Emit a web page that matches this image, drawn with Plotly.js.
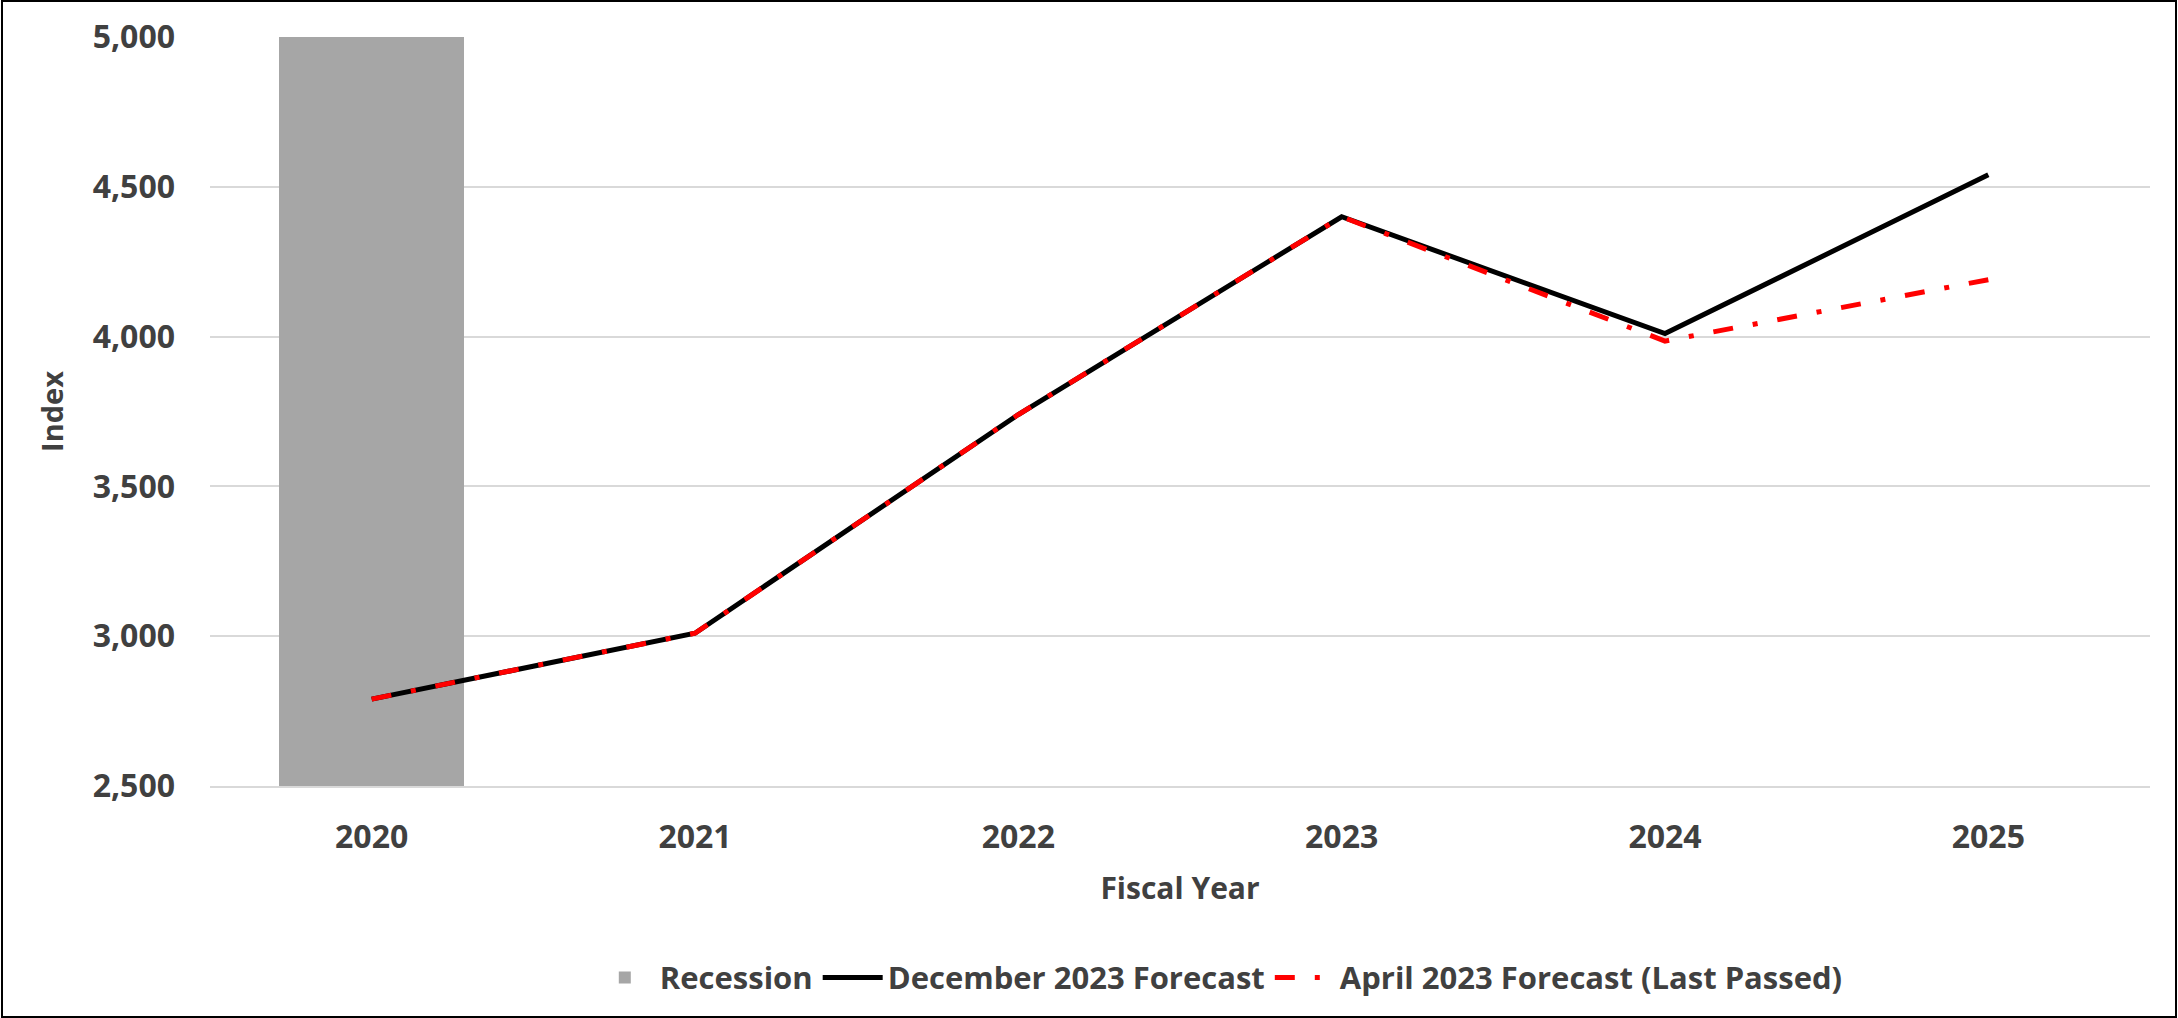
<!DOCTYPE html>
<html>
<head>
<meta charset="utf-8">
<script src="https://cdn.plot.ly/plotly-3.0.1.min.js"></script>
<style>
  html, body { margin: 0; padding: 0; background: #fff; }
  #wrap { position: relative; width: 2178px; height: 1018px; }
  #chart { position: absolute; left: 0; top: 0; width: 2178px; height: 1018px; }
  #frame { position: absolute; left: 1px; top: 0; width: 2176px; height: 1018px; box-sizing: border-box; border: 2px solid #000; pointer-events: none; }
</style>
</head>
<body>
<div id="wrap">
  <div id="chart"></div>
  <div id="frame"></div>
</div>
<script>
// ---- data ----
const fiscalYears = ['2020', '2021', '2022', '2023', '2024', '2025'];
const recessionYears = ['2020'];
const recessionTop = [5000];
const december2023Forecast = [2790, 3010, 3740, 4400, 4010, 4540];
const april2023Forecast = [2790, 3010, 3740, 4400, 3985, 4190];
const yTickValues = [2500, 3000, 3500, 4000, 4500, 5000];

const textColor = '#404040';
const fontFamily = '"Open Sans", "Noto Sans", sans-serif';

const traces = [
  {
    type: 'bar',
    name: 'Recession',
    x: recessionYears,
    y: recessionTop,
    width: 0.572,
    marker: { color: '#a6a6a6', line: { width: 0 } },
    hoverinfo: 'skip'
  },
  {
    type: 'scatter',
    mode: 'lines',
    name: 'December 2023 Forecast',
    x: fiscalYears,
    y: december2023Forecast,
    line: { color: '#000000', width: 5 }
  },
  {
    type: 'scatter',
    mode: 'lines',
    name: 'April 2023 Forecast (Last Passed)',
    x: fiscalYears,
    y: april2023Forecast,
    line: { color: '#ff0000', width: 5, dash: '20px,20px,5px,20px' }
  }
];

const layout = {
  width: 2178,
  height: 1018,
  paper_bgcolor: '#ffffff',
  plot_bgcolor: '#ffffff',
  margin: { l: 210, r: 28, t: 37, b: 232 },
  font: { family: fontFamily, color: textColor, size: 30, weight: 'bold' },
  showlegend: true,
  legend: {
    orientation: 'h',
    x: 0.52,
    xanchor: 'center',
    y: -0.256,
    yanchor: 'middle',
    font: { family: fontFamily, size: 31, color: textColor, weight: 'bold' },
    traceorder: 'normal',
    itemsizing: 'constant',
    itemwidth: 60
  },
  xaxis: {
    type: 'category',
    categoryorder: 'array',
    categoryarray: fiscalYears,
    range: [-0.5, 5.5],
    showgrid: false,
    showline: true,
    linecolor: '#d9d9d9',
    linewidth: 2,
    ticks: '',
    ticklabelstandoff: 22,
    tickfont: { family: fontFamily, size: 32, color: textColor, weight: 'bold' },
    title: {
      text: 'Fiscal Year',
      font: { family: fontFamily, size: 30, color: textColor, weight: 'bold' },
      standoff: 22
    },
    fixedrange: true
  },
  yaxis: {
    range: [2500, 5000],
    tickvals: yTickValues,
    tickformat: ',',
    showgrid: true,
    gridcolor: '#d9d9d9',
    gridwidth: 2,
    zeroline: false,
    showline: false,
    ticks: '',
    ticklabelstandoff: 34,
    tickfont: { family: fontFamily, size: 32, color: textColor, weight: 'bold' },
    title: {
      text: 'Index',
      font: { family: fontFamily, size: 29, color: textColor, weight: 'bold' },
      standoff: 20
    },
    fixedrange: true
  },
  bargap: 0
};

Plotly.newPlot('chart', traces, layout, { displayModeBar: false, staticPlot: true });
</script>
</body>
</html>
